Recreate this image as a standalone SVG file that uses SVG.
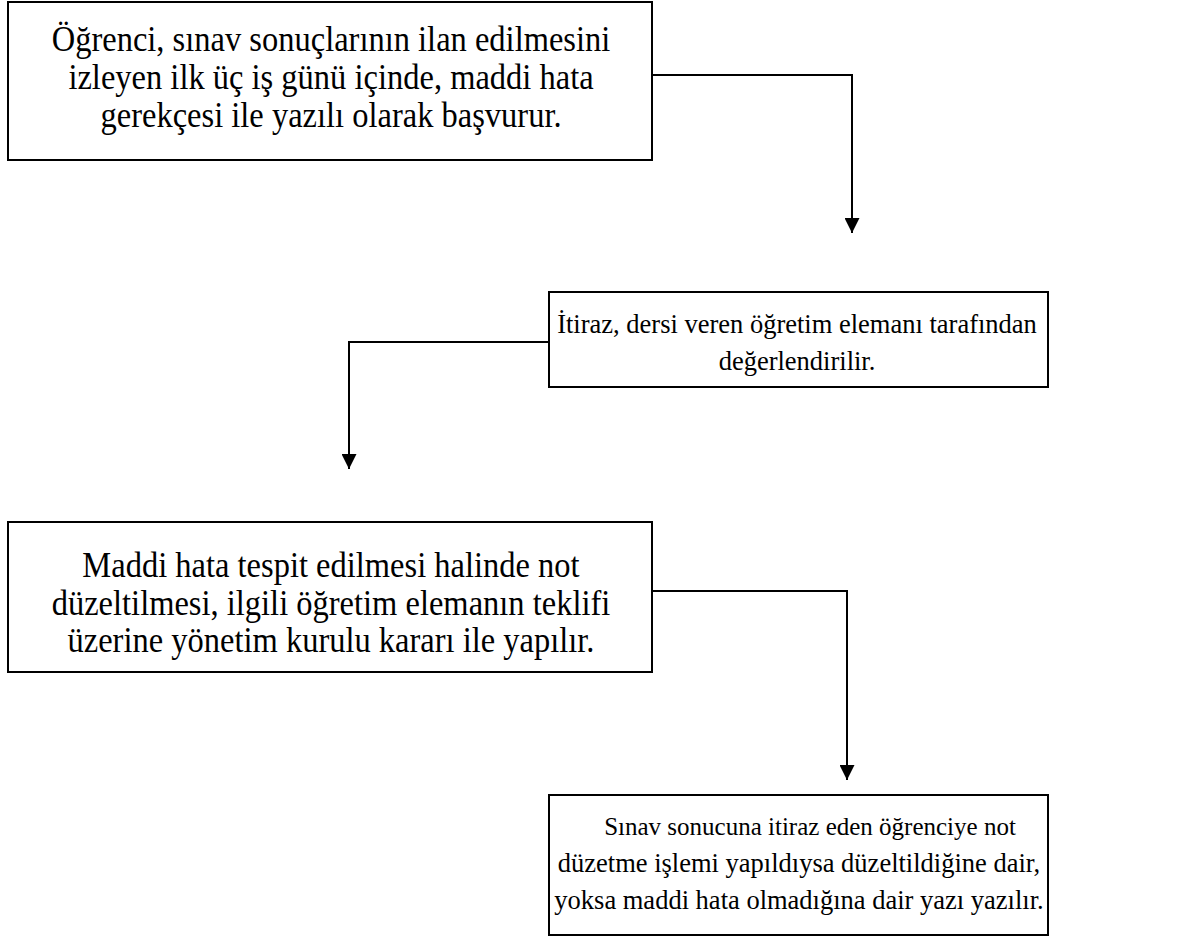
<svg xmlns="http://www.w3.org/2000/svg" width="1187" height="943" viewBox="0 0 1187 943">
<style>
.box{fill:#fff;stroke:#000;stroke-width:2}
.t{font-family:"Liberation Serif","Times New Roman",serif;fill:#000;text-anchor:middle}
.big{font-size:32.5px}
.sm{font-size:26.5px}
.c{fill:none;stroke:#000;stroke-width:2}
</style>
<defs>
<marker id="ah" viewBox="0 0 10 10" refX="10" refY="5" markerWidth="15" markerHeight="15" markerUnits="userSpaceOnUse" orient="auto">
<path d="M0,0 L10,5 L0,10 Z" fill="#000"/>
</marker>
</defs>
<rect width="1187" height="943" fill="#fff"/>
<g id="connectors">
<polyline class="c" points="652,75 852,75 852,233" marker-end="url(#ah)"/>
<polyline class="c" points="549,342 349,342 349,469" marker-end="url(#ah)"/>
<polyline class="c" points="652,591 847,591 847,780" marker-end="url(#ah)"/>
</g>
<g id="n1">
<rect class="box" x="8" y="2" width="644" height="158"/>
<text class="t big" transform="translate(331,51) scale(1,1.12)">Öğrenci, sınav sonuçlarının ilan edilmesini</text>
<text class="t big" transform="translate(331,89) scale(1,1.12)">izleyen ilk üç iş günü içinde, maddi hata</text>
<text class="t big" transform="translate(331,127) scale(1,1.12)">gerekçesi ile yazılı olarak başvurur.</text>
</g>
<g id="n2">
<rect class="box" x="549" y="292" width="499" height="95"/>
<text class="t sm" x="797" y="333">İtiraz, dersi veren öğretim elemanı tarafından</text>
<text class="t sm" x="797" y="370">değerlendirilir.</text>
</g>
<g id="n3">
<rect class="box" x="8" y="522" width="644" height="150"/>
<text class="t big" transform="translate(331,577) scale(1,1.12)">Maddi hata tespit edilmesi halinde not</text>
<text class="t big" transform="translate(331,615) scale(1,1.12)">düzeltilmesi, ilgili öğretim elemanın teklifi</text>
<text class="t big" transform="translate(331,652) scale(1,1.12)">üzerine yönetim kurulu kararı ile yapılır.</text>
</g>
<g id="n4">
<rect class="box" x="549" y="795" width="499" height="140"/>
<text class="t" style="font-size:25px" x="810" y="835">Sınav sonucuna itiraz eden öğrenciye not</text>
<text class="t sm" x="799" y="872">düzetme işlemi yapıldıysa düzeltildiğine dair,</text>
<text class="t sm" x="799" y="909">yoksa maddi hata olmadığına dair yazı yazılır.</text>
</g>
</svg>
